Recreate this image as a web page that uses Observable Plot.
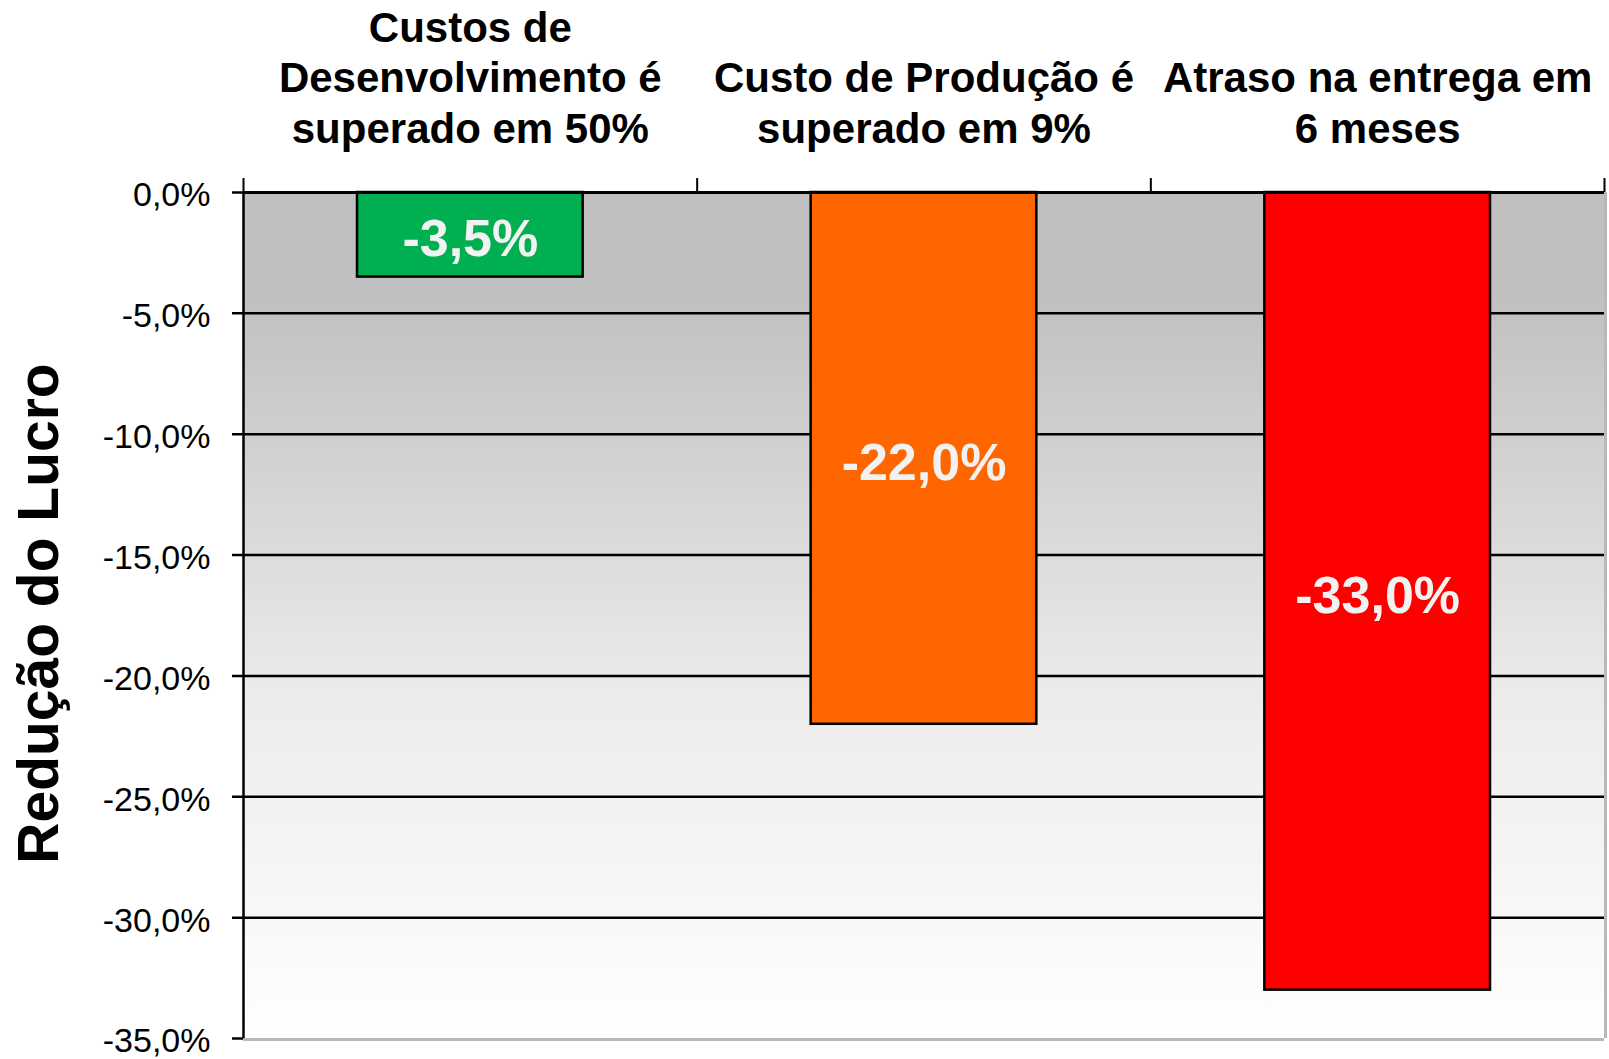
<!DOCTYPE html>
<html>
<head>
<meta charset="utf-8">
<script src="https://cdn.jsdelivr.net/npm/d3@7"></script>
<script src="https://cdn.jsdelivr.net/npm/@observablehq/plot@0.6"></script>
<style>
  html, body { margin: 0; padding: 0; background: #fff; }
  #chart { width: 1609px; height: 1059px; }
  svg { font-family: "Liberation Sans", Arial, sans-serif; }
</style>
</head>
<body>
<div id="chart"></div>
<script>
const categories = [
  ["Custos de", "Desenvolvimento é", "superado em 50%"],
  ["Custo de Produção é", "superado em 9%"],
  ["Atraso na entrega em", "6 meses"]
];
const values = [-3.5, -22.0, -33.0];
const colors = ["#00b050", "#ff6600", "#ff0000"];
const yTicks = [0, -5, -10, -15, -20, -25, -30, -35];
const boundaries = [0, 1, 2, 3];

const data = values.map((v, i) => ({
  i, v, color: colors[i], label: categories[i].join("\n"),
  txt: v.toFixed(1).replace(".", ",") + "%"
}));

const fmt = d => (Math.abs(d) < 1e-9 ? 0 : d).toFixed(1).replace(".", ",") + "%";

const chart = Plot.plot({
  width: 1609,
  height: 1059,
  marginLeft: 243,
  marginRight: 5,
  marginTop: 192,
  marginBottom: 21,
  style: { fontFamily: "'Liberation Sans', Arial, sans-serif", background: "white", overflow: "visible" },
  x: { type: "linear", domain: [0, 3], axis: null },
  y: { domain: [-35, 0], axis: null },
  marks: [
    Plot.frame({ fill: "url(#bggrad)", stroke: null }),
    // right and bottom light border
    Plot.ruleX([3], { stroke: "#b8b8b8", strokeWidth: 3, dx: 1 }),
    Plot.ruleY([-35], { stroke: "#b8b8b8", strokeWidth: 3, dy: 1 }),
    // gridlines with outward ticks
    Plot.ruleY(yTicks.filter(d => d > -35), { stroke: "black", strokeWidth: 2.5, insetLeft: -11 }),
    Plot.ruleY([-35], { x1: 0, x2: 0, insetLeft: -11, stroke: "black", strokeWidth: 2.5 }),
    Plot.axisY({ ticks: yTicks, tickFormat: fmt, tickSize: 0, tickPadding: 33, fontSize: 34, color: "black", label: null, dy: 3 }),
    // y axis line
    Plot.ruleX([0], { stroke: "black", strokeWidth: 2.5 }),
    // top ticks at category boundaries
    Plot.ruleX(boundaries, { y1: 0, y2: 0, stroke: "black", strokeWidth: 2, insetTop: -14 }),
    // bars
    Plot.rectY(data, { x1: d => d.i, x2: d => d.i + 1, y1: 0, y2: "v", fill: "color", stroke: "black", strokeWidth: 2.5, insetLeft: 114, insetRight: 114 }),
    // top axis line
    Plot.ruleY([0], { stroke: "black", strokeWidth: 3 }),
    // bar value labels
    Plot.text(data, { x: d => d.i + 0.5, y: d => d.v / 2, text: "txt", fill: "#f2f2f2", fontSize: 52, fontWeight: "bold", dy: 5 }),
    // category labels
    Plot.text(data, { x: d => d.i + 0.5, y: 0, text: "label", fill: "black", fontSize: 42, fontWeight: "bold", lineHeight: 1.2, lineAnchor: "bottom", dy: -50 }),
    // y axis title
    Plot.text(["Redução do Lucro"], { frameAnchor: "left", textAnchor: "middle", dx: -204, dy: -2, rotate: -90, fontSize: 57, fontWeight: "bold", fill: "black" })
  ]
});

// gradient definition
const ns = "http://www.w3.org/2000/svg";
const defs = document.createElementNS(ns, "defs");
defs.innerHTML = `<linearGradient id="bggrad" x1="0" y1="0" x2="0" y2="1">
  <stop offset="0" stop-color="#c0c0c0"/>
  <stop offset="0.12" stop-color="#c0c0c0"/>
  <stop offset="0.6" stop-color="#ececec"/>
  <stop offset="1" stop-color="#ffffff"/>
</linearGradient>`;
chart.insertBefore(defs, chart.firstChild);
document.getElementById("chart").appendChild(chart);
</script>
</body>
</html>
